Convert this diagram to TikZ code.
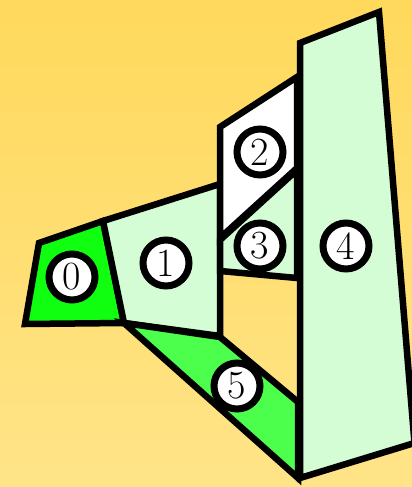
\documentclass[tikz,border=0pt]{standalone}
\usetikzlibrary{shadings}
\definecolor{bgtop}{RGB}{255,217,92}
\definecolor{bgbot}{RGB}{255,228,136}
\definecolor{brightgreen}{RGB}{16,255,16}
\definecolor{palegreen}{RGB}{213,253,213}
\definecolor{midgreen}{RGB}{76,255,76}
\tikzset{
  piece/.style={draw=black, line width=6.5pt},
  lab/.style={circle, draw=black, line width=7pt, fill=white, minimum size=46pt, inner sep=0pt, font=\fontsize{40}{42}\selectfont},
}
\begin{document}
\begin{tikzpicture}[x=1pt,y=-1pt]
\useasboundingbox (0,0) rectangle (412,487);
\shade[top color=bgtop, bottom color=bgbot] (0,0) rectangle (412,487);
\begin{scope}
\clip (0,0) rectangle (412,487);
% piece 0
\draw[piece, fill=brightgreen] (39,243) -- (103,221) -- (124,323) -- (25,324) -- cycle;
% piece 1
\draw[piece, fill=palegreen] (103,221) -- (220,184) -- (220,336) -- (124,323) -- cycle;
% piece 2
\draw[piece, fill=white] (220,127) -- (297,77) -- (297,168) -- (220,238) -- cycle;
% piece 3
\draw[piece, fill=palegreen] (220,240) -- (297,170) -- (297,278) -- (220,271) -- cycle;
% piece 5
\draw[piece, fill=midgreen] (124,323) -- (220,337) -- (298,402) -- (298,478) -- cycle;
% piece 4
\draw[piece, fill=palegreen] (300,43) -- (379,12) -- (414.5,443) -- (300,478) -- cycle;
\end{scope}
\node[lab] (n0) at (72,277) {0};
\node[lab] (n1) at (166,263) {1};
\node[lab] (n2) at (260,152) {2};
\node[lab] (n3) at (260,246) {3};
\node[lab] (n4) at (346,246) {4};
\node[lab] (n5) at (237,386) {5};
\end{tikzpicture}
\end{document}
